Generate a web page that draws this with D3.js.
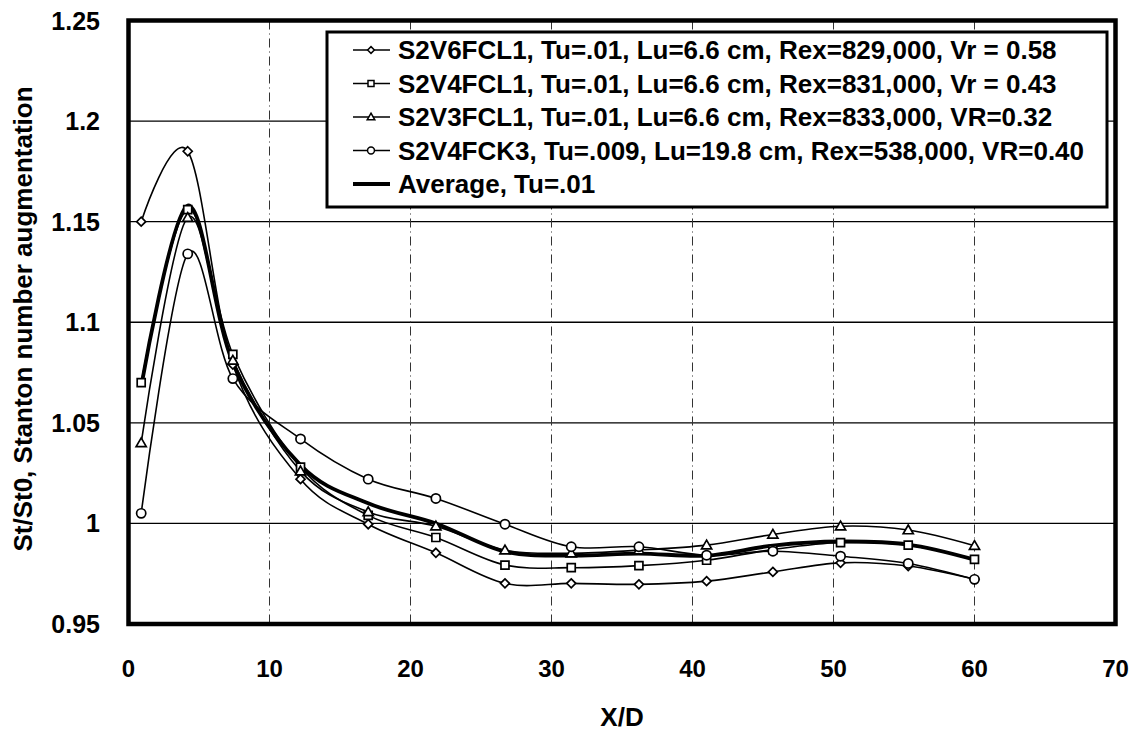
<!DOCTYPE html>
<html lang="en">
<head>
<meta charset="UTF-8">
<title>Stanton number augmentation vs X/D</title>
<style>
    body { margin: 0; background: #fff; }
    svg text { font-family: "Liberation Sans", Arial, Helvetica, sans-serif; font-weight: bold; fill: #000; }
</style>
</head>
<body>
<svg id="chart" width="1138" height="731"></svg>
<script src="https://d3js.org/d3.v7.min.js"></script>
<script>
// X/D stations
var xd = [0.9, 4.2, 7.4, 12.2, 17.0, 21.8, 26.7, 31.4, 36.2, 41.0, 45.7, 50.5, 55.3, 60.0];

// St/St0 values
var s2v6fcl1 = [1.150, 1.185, 1.079, 1.022, 0.9996, 0.9854, 0.9702, 0.9702, 0.9697, 0.9713, 0.9759, 0.9804, 0.9788, 0.9722];
var s2v4fcl1 = [1.070, 1.156, 1.084, 1.028, 1.004, 0.993, 0.9793, 0.978, 0.979, 0.9817, 0.987, 0.9905, 0.9892, 0.9821];
var s2v3fcl1 = [1.040, 1.152, 1.081, 1.026, 1.0057, 0.9986, 0.9867, 0.9852, 0.9867, 0.9892, 0.9945, 0.9986, 0.9967, 0.9889];
var s2v4fck3 = [1.005, 1.134, 1.072, 1.042, 1.022, 1.0124, 0.9996, 0.9884, 0.9884, 0.9842, 0.9862, 0.9837, 0.9801, 0.9722];
var average  = [1.068, 1.158, 1.080, 1.029, 1.010, 1.000, 0.986, 0.984, 0.985, 0.984, 0.989, 0.991, 0.9895, 0.982];

var seriesNames = [
    'S2V6FCL1, Tu=.01, Lu=6.6 cm, Rex=829,000, Vr = 0.58',
    'S2V4FCL1, Tu=.01, Lu=6.6 cm, Rex=831,000, Vr = 0.43',
    'S2V3FCL1, Tu=.01, Lu=6.6 cm, Rex=833,000, VR=0.32',
    'S2V4FCK3, Tu=.009, Lu=19.8 cm, Rex=538,000, VR=0.40',
    'Average, Tu=.01'
];
var markers = ['diamond', 'square', 'triangle', 'circle', 'none'];

var xTicks = [0, 10, 20, 30, 40, 50, 60, 70];
var yTicks = [0.95, 1, 1.05, 1.1, 1.15, 1.2, 1.25];

var series = [s2v6fcl1, s2v4fcl1, s2v3fcl1, s2v4fck3, average].map(function (vals, i) {
    return {
        name: seriesNames[i],
        marker: markers[i],
        points: vals.map(function (v, j) { return { x: xd[j], y: v }; })
    };
});

var svg = d3.select('#chart');

var plotLeft = 128.5, plotRight = 1115.5, plotTop = 20.5, plotBottom = 624;

var x = d3.scaleLinear().domain([0, 70]).range([plotLeft, plotRight]);
var y = d3.scaleLinear().domain([0.95, 1.25]).range([plotBottom, plotTop]);

// gridlines
svg.append('g')
    .selectAll('line')
    .data(yTicks.slice(1, -1))
    .enter()
    .append('line')
    .attr('x1', plotLeft).attr('x2', plotRight)
    .attr('y1', d => y(d)).attr('y2', d => y(d))
    .attr('stroke', '#000')
    .attr('stroke-width', 1.3);

svg.append('g')
    .selectAll('line')
    .data(xTicks.slice(1, -1))
    .enter()
    .append('line')
    .attr('x1', d => x(d)).attr('x2', d => x(d))
    .attr('y1', plotTop).attr('y2', plotBottom)
    .attr('stroke', '#333')
    .attr('stroke-width', 1)
    .attr('stroke-dasharray', '9,4,1,4');

// tick labels
svg.append('g')
    .selectAll('text')
    .data(yTicks)
    .enter()
    .append('text')
    .attr('x', 100)
    .attr('y', d => y(d))
    .attr('dy', '0.36em')
    .attr('text-anchor', 'end')
    .style('font-size', '25px')
    .text(d => d3.format('')(d));

svg.append('g')
    .selectAll('text')
    .data(xTicks)
    .enter()
    .append('text')
    .attr('x', d => x(d))
    .attr('y', 677)
    .attr('text-anchor', 'middle')
    .style('font-size', '24px')
    .text(d => d);

// axis titles
svg.append('text')
    .attr('x', (plotLeft + plotRight) / 2)
    .attr('y', 726)
    .attr('text-anchor', 'middle')
    .style('font-size', '26px')
    .text('X/D');

svg.append('text')
    .attr('transform', 'translate(32,319) rotate(-90)')
    .attr('text-anchor', 'middle')
    .style('font-size', '26px')
    .text('St/St0, Stanton number augmentation');

// marker shapes
function markerPath(type, s) {
    if (type === 'diamond') return 'M0,' + (-s) + 'L' + s + ',0L0,' + s + 'L' + (-s) + ',0Z';
    if (type === 'square') return 'M' + (-s) + ',' + (-s) + 'H' + s + 'V' + s + 'H' + (-s) + 'Z';
    if (type === 'triangle') return 'M0,' + (-s * 1.1) + 'L' + (s * 1.1) + ',' + (s * 0.8) + 'L' + (-s * 1.1) + ',' + (s * 0.8) + 'Z';
    if (type === 'circle') return 'M' + s + ',0A' + s + ',' + s + ' 0 1,1 ' + (-s) + ',0A' + s + ',' + s + ' 0 1,1 ' + s + ',0Z';
    return '';
}
var markerSize = { diamond: 4.5, square: 4, triangle: 4.6, circle: 4.6 };

var line = d3.line()
    .x(d => x(d.x))
    .y(d => y(d.y))
    .curve(d3.curveCatmullRom.alpha(0));

var plot = svg.append('g');

series.forEach(function (s) {
    plot.append('path')
        .datum(s.points)
        .attr('d', line)
        .attr('fill', 'none')
        .attr('stroke', '#000')
        .attr('stroke-width', s.marker === 'none' ? 3.8 : 1.6);
});

series.forEach(function (s) {
    if (s.marker === 'none') return;
    plot.selectAll(null)
        .data(s.points)
        .enter()
        .append('path')
        .attr('transform', d => 'translate(' + x(d.x) + ',' + y(d.y) + ')')
        .attr('d', markerPath(s.marker, markerSize[s.marker]))
        .attr('fill', '#fff')
        .attr('stroke', '#000')
        .attr('stroke-width', 1.7);
});

// plot frame
svg.append('rect')
    .attr('x', plotLeft).attr('y', plotTop)
    .attr('width', plotRight - plotLeft).attr('height', plotBottom - plotTop)
    .attr('fill', 'none')
    .attr('stroke', '#000')
    .attr('stroke-width', 4.5);

// legend
var legend = svg.append('g');
legend.append('rect')
    .attr('x', 327).attr('y', 32)
    .attr('width', 780).attr('height', 175)
    .attr('fill', '#fff')
    .attr('stroke', '#000')
    .attr('stroke-width', 3);

var rows = legend.selectAll('.legend-row')
    .data(series)
    .enter()
    .append('g')
    .attr('class', 'legend-row')
    .attr('transform', (d, i) => 'translate(0,' + (59 + i * 33.5) + ')');

rows.append('line')
    .attr('x1', 353).attr('x2', 390)
    .attr('y1', -9).attr('y2', -9)
    .attr('stroke', '#000')
    .attr('stroke-width', d => d.marker === 'none' ? 3.8 : 1.6);

rows.filter(d => d.marker !== 'none')
    .append('path')
    .attr('transform', 'translate(371,-9)')
    .attr('d', d => markerPath(d.marker, markerSize[d.marker] * 0.75))
    .attr('fill', '#fff')
    .attr('stroke', '#000')
    .attr('stroke-width', 1.5);

rows.append('text')
    .attr('x', 398)
    .attr('y', 0)
    .style('font-size', '26px')
    .text(d => d.name);
</script>
</body>
</html>
